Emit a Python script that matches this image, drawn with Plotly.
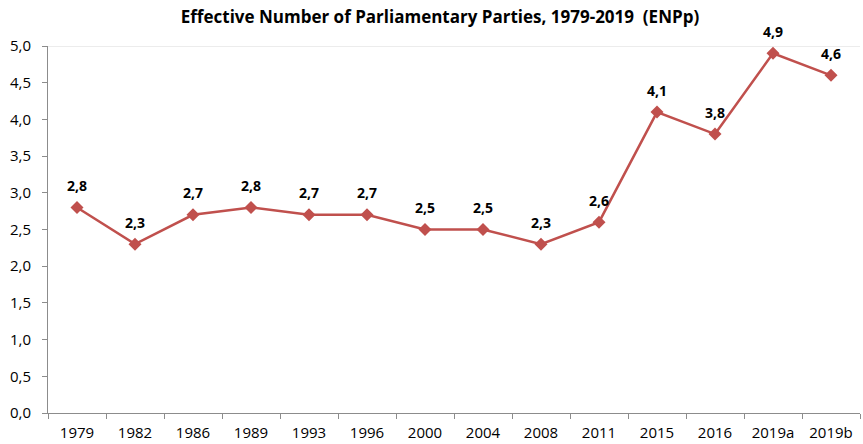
import plotly.graph_objects as go

years = ["1979", "1982", "1986", "1989", "1993", "1996", "2000", "2004", "2008", "2011", "2015", "2016", "2019a", "2019b"]
enpp = [2.8, 2.3, 2.7, 2.8, 2.7, 2.7, 2.5, 2.5, 2.3, 2.6, 4.1, 3.8, 4.9, 4.6]
title_text = "Effective Number of Parliamentary Parties, 1979-2019  (ENPp)"

color = "#C0504D"
font_family = "'Open Sans', sans-serif"

W, H = 863, 444

fig = go.Figure()
fig.add_trace(go.Scatter(
    x=years, y=enpp, mode="lines+markers",
    line=dict(color=color, width=2.5),
    marker=dict(symbol="diamond", size=10, color=color),
    hoverinfo="skip",
))

for i, y in enumerate(enpp):
    fig.add_annotation(
        x=i, y=y, xref="x", yref="y", text="<b>" + f"{y:.1f}".replace(".", ",") + "</b>",
        showarrow=False, yshift=22, font=dict(size=14, color="#000000", family=font_family),
    )

fig.add_shape(type="line", xref="paper", x0=0, x1=1, yref="y", y0=5, y1=5,
              line=dict(color="#D9D9D9", width=1), layer="below")

fig.update_layout(
    width=W, height=H,
    margin=dict(l=48, r=3, t=46, b=31),
    paper_bgcolor="white", plot_bgcolor="white",
    separators=",.",
    showlegend=False,
    font=dict(family=font_family, size=15, color="#000000"),
    title=dict(text="<b>" + title_text + "</b>", x=440 / W, xanchor="center", y=1 - 17 / H, yanchor="middle",
               font=dict(size=17, family=font_family, color="#000000")),
)
fig.update_xaxes(
    type="category", range=[-0.5, len(years) - 0.5], autorange=False, automargin=False,
    showline=True, linecolor="#8C8C8C", linewidth=1,
    ticks="outside", tickson="boundaries", ticklen=5, tickcolor="#8C8C8C",
    showgrid=False, zeroline=False, tickfont=dict(size=15), tickangle=0,
    ticklabelstandoff=6,
)
fig.update_yaxes(
    range=[0, 5], dtick=0.5, tickformat=".1f", autorange=False, automargin=False,
    showline=True, linecolor="#8C8C8C", linewidth=1,
    ticks="outside", ticklen=5, tickcolor="#8C8C8C",
    showgrid=False, zeroline=False, tickfont=dict(size=15),
    ticklabelstandoff=8,
)

fig.write_html(
    "out.html",
    config={"displayModeBar": False},
    post_script="document.body.style.margin='0';document.body.style.overflow='hidden';",
)
